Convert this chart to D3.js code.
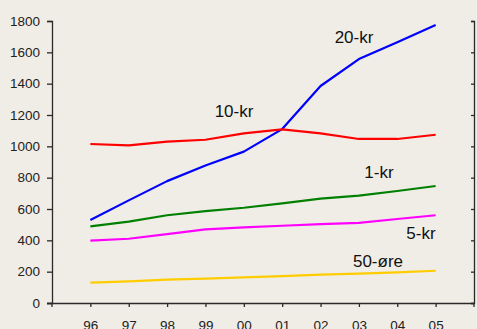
<!DOCTYPE html>
<html>
<head>
<meta charset="utf-8">
<script src="https://cdn.jsdelivr.net/npm/d3@7"></script>
<style>
  html, body { margin: 0; padding: 0; background: #f0ede6; }
  svg { display: block; font-family: "Liberation Sans", Arial, sans-serif; }
</style>
</head>
<body>
<svg id="chart" width="477" height="329"></svg>
<script>
// Years on the horizontal axis
const years = ["96", "97", "98", "99", "00", "01", "02", "03", "04", "05"];
const yTicks = [0, 200, 400, 600, 800, 1000, 1200, 1400, 1600, 1800];

// Coin values per year (millions)
const kr20  = [530, 655, 778, 878, 966, 1110, 1385, 1557, 1665, 1775];
const kr10  = [1015, 1006, 1030, 1042, 1083, 1108, 1083, 1047, 1047, 1074];
const kr1   = [489, 519, 560, 587, 608, 636, 666, 685, 715, 747];
const kr5   = [398, 410, 440, 470, 483, 493, 504, 512, 536, 560];
const ore50 = [130, 138, 149, 155, 164, 172, 181, 187, 196, 206];

const seriesNames = ["20-kr", "10-kr", "1-kr", "5-kr", "50-øre"];
const seriesValues = [kr20, kr10, kr1, kr5, ore50];
const seriesColors = ["#0000ff", "#ff0000", "#008000", "#ff00ff", "#ffcc00"];
// pixel anchors for the line names
const labelPos = [
  { x: 354, y: 43 },
  { x: 234, y: 117 },
  { x: 379, y: 178 },
  { x: 421, y: 239 },
  { x: 378, y: 267 }
];

const svg = d3.select("#chart");
const plotLeft = 52, plotRight = 474, plotTop = 21, plotBottom = 303;

const x = d3.scalePoint().domain(years).range([plotLeft, plotRight]).padding(1);
const y = d3.scaleLinear().domain([0, 1800]).range([plotBottom, plotTop]);

const axisColor = "#2a2a2a";

// Left value axis
const yAxis = svg.append("g")
  .attr("transform", `translate(${plotLeft},0)`)
  .call(d3.axisLeft(y).tickValues(yTicks).tickSize(5).tickPadding(7).tickFormat(d3.format("d")));
yAxis.select(".domain").attr("stroke", axisColor).attr("stroke-width", 1.3);
yAxis.selectAll(".tick line").attr("stroke", axisColor).attr("stroke-width", 1.3);
yAxis.selectAll(".tick text").attr("fill", "#222").attr("font-size", 13.5)
  .attr("font-family", "'Liberation Sans', Arial, sans-serif");

// Right frame axis with inward ticks
const yAxisR = svg.append("g")
  .attr("transform", `translate(${plotRight},0)`)
  .call(d3.axisLeft(y).tickValues(yTicks).tickSize(3).tickFormat(""));
yAxisR.select(".domain").attr("stroke", axisColor).attr("stroke-width", 1.3);
yAxisR.selectAll(".tick line").attr("stroke", axisColor).attr("stroke-width", 1.3);

// Bottom category axis
const xAxis = svg.append("g")
  .attr("transform", `translate(0,${plotBottom})`)
  .call(d3.axisBottom(x).tickSize(4).tickPadding(13).tickSizeOuter(0));
xAxis.select(".domain").attr("stroke", axisColor).attr("stroke-width", 1.3)
  .attr("d", `M${plotLeft - 5},0.5H${plotRight}`);
xAxis.selectAll(".tick line").attr("stroke", axisColor).attr("stroke-width", 1.3);
xAxis.selectAll(".tick text").attr("fill", "#222").attr("font-size", 13.5)
  .attr("font-family", "'Liberation Sans', Arial, sans-serif");
// end ticks at both frame edges
xAxis.selectAll(".edge").data([plotLeft, plotRight]).enter().append("line")
  .attr("class", "edge")
  .attr("x1", d => d).attr("x2", d => d)
  .attr("y1", 0).attr("y2", 4)
  .attr("stroke", axisColor).attr("stroke-width", 1.3);

// Series lines
const line = d3.line()
  .x((d, i) => x(years[i]))
  .y(d => y(d));

seriesValues.forEach((vals, k) => {
  svg.append("path")
    .datum(vals)
    .attr("fill", "none")
    .attr("stroke", seriesColors[k])
    .attr("stroke-width", 2.2)
    .attr("stroke-linejoin", "round")
    .attr("d", line);
});

// Series names
svg.selectAll(".series-label").data(seriesNames).enter().append("text")
  .attr("class", "series-label")
  .attr("x", (d, i) => labelPos[i].x)
  .attr("y", (d, i) => labelPos[i].y)
  .attr("text-anchor", "middle")
  .attr("font-size", 17)
  .attr("fill", "#111")
  .text(d => d);
</script>
</body>
</html>
